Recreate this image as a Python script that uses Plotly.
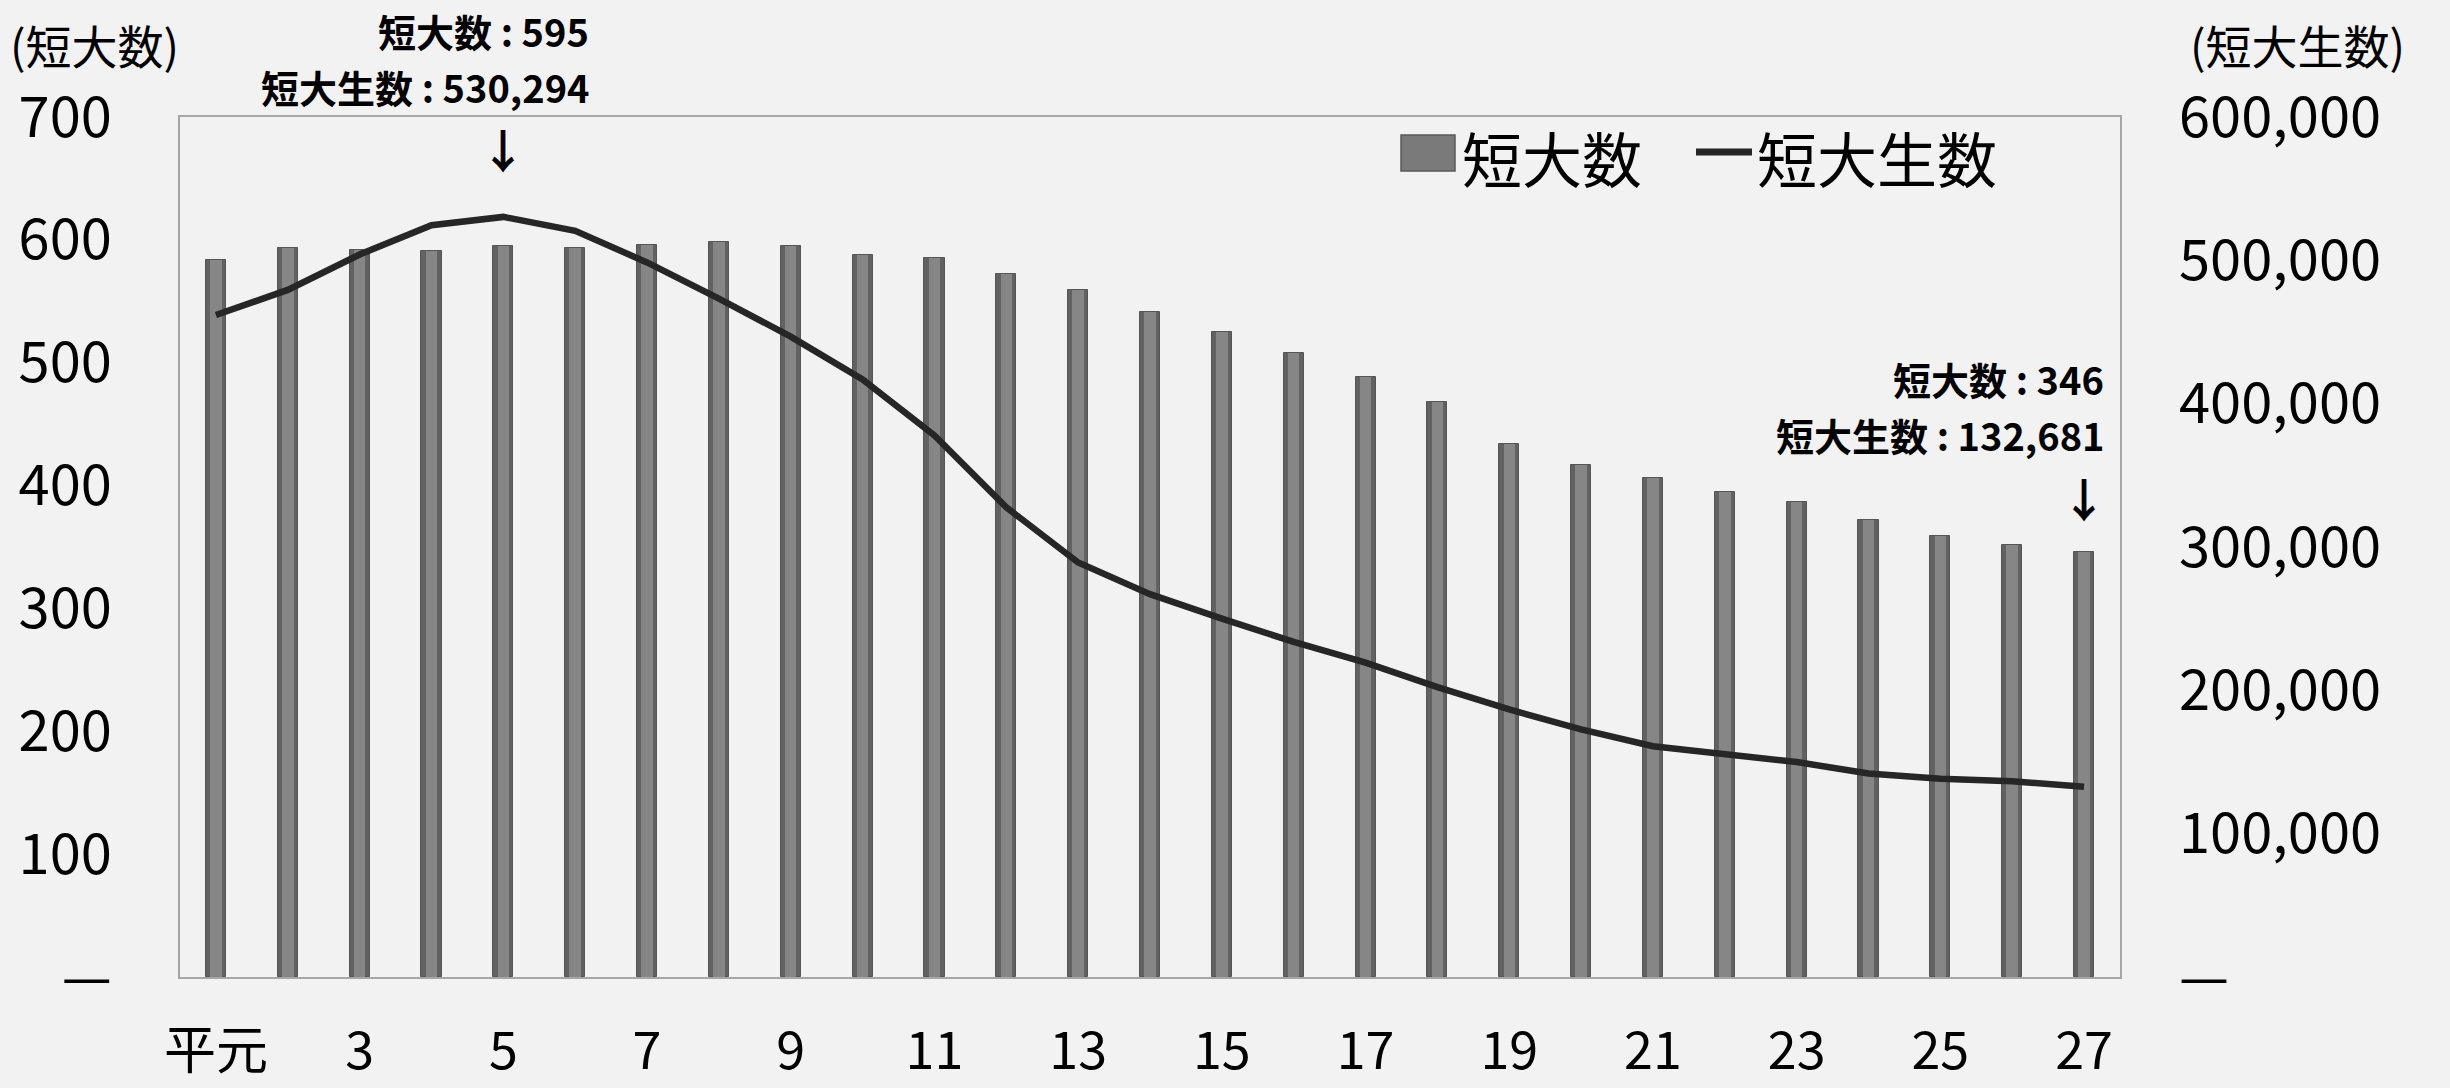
import plotly.graph_objects as go

# Heisei years 1..27
years = list(range(1, 28))
tick_years = [y for y in years if y % 2 == 1]
tick_labels = ["平元" if y == 1 else str(y) for y in tick_years]

# number of junior colleges (短大数)
colleges = [584, 593, 592, 591, 595, 593, 596, 598, 595, 588, 585, 572, 559, 541,
            525, 508, 488, 468, 434, 417, 406, 395, 387, 372, 359, 352, 346]
# number of junior college students (短大生数)
students = [461849, 479389, 504087, 524538, 530294, 520638, 498516, 473279, 446750,
            416825, 377852, 327680, 289198, 267086, 250062, 233754, 219355, 202254,
            186667, 172726, 160976, 155273, 150007, 141970, 138260, 136534, 132681]

left_ticks = [0, 100, 200, 300, 400, 500, 600, 700]
left_text = ["—"] + [str(v) for v in left_ticks[1:]]
right_ticks = [0, 100000, 200000, 300000, 400000, 500000, 600000]
right_text = ["—"] + [f"{v:,}" for v in right_ticks[1:]]

FONT = "Noto Sans CJK JP"
BG = "#f2f2f2"

# plot-area geometry in pixels (for placing paper-referenced labels)
W, H = 2450, 1088
L, R, T, B = 180, 2120, 117, 977


def px(x):
    return (x - L) / (R - L)


def py(y):
    return (B - y) / (B - T)


fig = go.Figure()

# bars: darker body with a lighter centre strip for a rounded look
fig.add_trace(go.Bar(x=years, y=colleges, width=0.28, name="短大数",
                     marker=dict(color="#626262", line=dict(color="#555555", width=1)),
                     yaxis="y", showlegend=False))
fig.add_trace(go.Bar(x=years, y=colleges, width=0.16, name="短大数",
                     marker=dict(color="#868686", line=dict(width=0)),
                     yaxis="y", showlegend=False, hoverinfo="skip"))

fig.add_trace(go.Scatter(x=years, y=students, name="短大生数", mode="lines",
                         line=dict(color="#262626", width=6.5),
                         yaxis="y2", showlegend=False))

annotations = []


def text(x, y, s, size, xanchor="left", bold=False):
    annotations.append(dict(
        x=x, y=y, xref="paper", yref="paper", text=(f"<b>{s}</b>" if bold else s),
        showarrow=False, xanchor=xanchor, yanchor="middle",
        font=dict(family=FONT, size=size, color="#000000")))


def arrow(xval, y):
    annotations.append(dict(x=xval, y=y, xref="x", yref="paper", text="<b>↓</b>",
                            showarrow=False, xanchor="center", yanchor="middle",
                            font=dict(family=FONT, size=46, color="#000000")))


# axis unit labels
text(px(8), py(44), "(短大数)", 46)
text(px(2188), py(44), "(短大生数)", 46)

# peak callout (Heisei 5)
text(px(591), py(30), f"短大数 : {colleges[4]}", 38, xanchor="right", bold=True)
text(px(591), py(86), f"短大生数 : {students[4]:,}", 38, xanchor="right", bold=True)
arrow(5, py(148))

# latest-year callout (Heisei 27)
text(px(2106), py(378), f"短大数 : {colleges[-1]}", 38, xanchor="right", bold=True)
text(px(2106), py(434), f"短大生数 : {students[-1]:,}", 38, xanchor="right", bold=True)
arrow(27, py(497))

# legend
text(px(1460), py(157), "短大数", 60)
text(px(1755), py(157), "短大生数", 60)

shapes = [
    dict(type="rect", xref="paper", yref="paper", x0=px(1401), x1=px(1455),
         y0=py(171), y1=py(135), fillcolor="#7a7a7a", line=dict(color="#5a5a5a", width=1.5)),
    dict(type="line", xref="paper", yref="paper", x0=px(1696), x1=px(1752),
         y0=py(152), y1=py(152), line=dict(color="#262626", width=7)),
]

fig.update_layout(
    width=W, height=H,
    margin=dict(l=L, r=W - R, t=T, b=H - B),
    paper_bgcolor=BG, plot_bgcolor=BG,
    font=dict(family=FONT, color="#000000"),
    barmode="overlay", bargap=0,
    showlegend=False,
    annotations=annotations,
    shapes=shapes,
    xaxis=dict(range=[0.5, 27.5], tickmode="array", tickvals=tick_years, ticktext=tick_labels,
               tickfont=dict(size=52, family=FONT), ticks="", showgrid=False, zeroline=False,
               showline=True, linecolor="#a6a6a6", linewidth=2, mirror=True,
               ticklabelstandoff=28, automargin=False),
    yaxis=dict(range=[0, 700], tickmode="array", tickvals=left_ticks, ticktext=left_text,
               tickfont=dict(size=56, family=FONT), ticks="", showgrid=False, zeroline=False,
               showline=True, linecolor="#a6a6a6", linewidth=2, mirror=True,
               ticklabelstandoff=55, automargin=False),
    yaxis2=dict(range=[0, 600000], overlaying="y", side="right", tickmode="array",
                tickvals=right_ticks, ticktext=right_text,
                tickfont=dict(size=56, family=FONT), ticks="", showgrid=False, zeroline=False,
                showline=False, ticklabelstandoff=58, automargin=False),
)

fig.write_html("out.html")
